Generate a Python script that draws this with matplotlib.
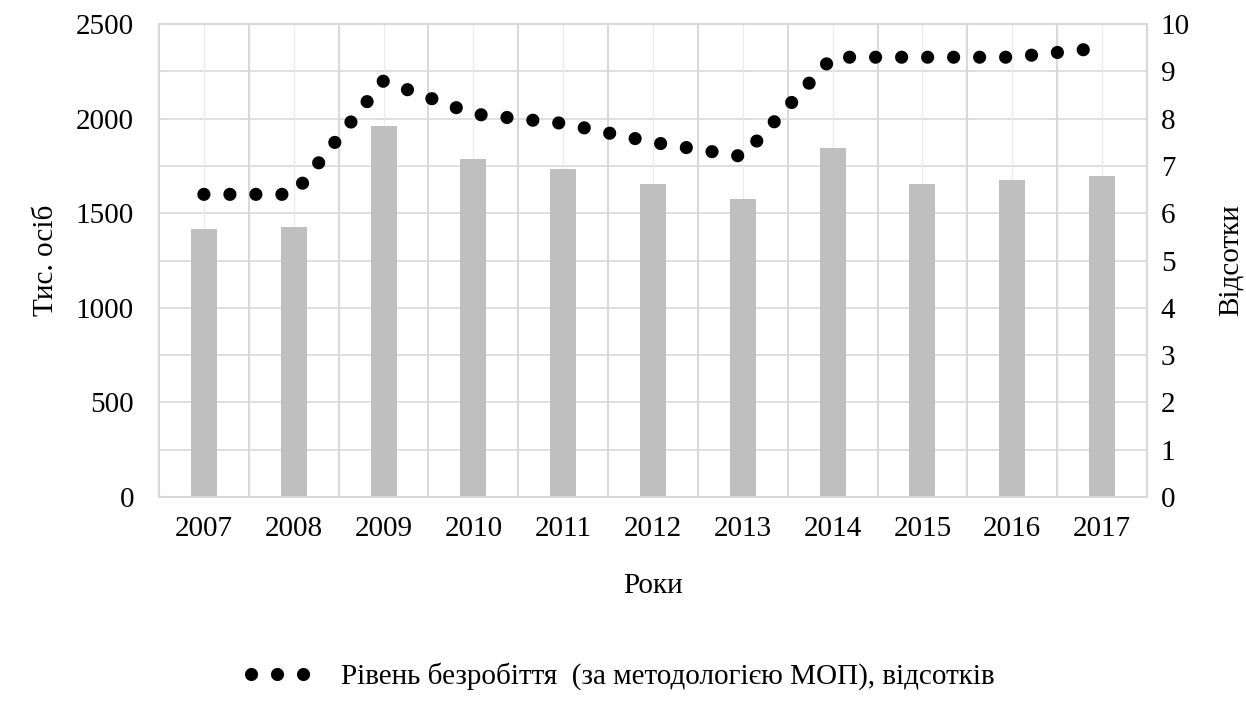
import numpy as np
import matplotlib
matplotlib.use("Agg")
import matplotlib.pyplot as plt
from matplotlib.lines import Line2D

plt.rcParams['font.family'] = ['Liberation Serif', 'DejaVu Serif']

# Дані
roky = ['2007', '2008', '2009', '2010', '2011', '2012', '2013', '2014', '2015', '2016', '2017']
bezrobitni = [1417.6, 1425.1, 1958.8, 1785.6, 1732.7, 1657.2, 1576.5, 1847.6, 1654.7, 1678.2, 1698.0]
riven = [6.4, 6.4, 8.8, 8.1, 7.9, 7.5, 7.2, 9.3, 9.3, 9.3, 9.5]

fs = 21
grid_col = '#d9d9d9'
lw_dots = 9.5
dots = (0, (0.001, 1.97))

fig = plt.figure(figsize=(12.46, 7.09), dpi=100)
ax = fig.add_axes([0.1276, 0.299, 0.7929, 0.667])
x = np.arange(len(roky))

ax.bar(x, bezrobitni, width=0.29, color='#bfbfbf', zorder=2)
ax.set_xlim(-0.5, len(roky) - 0.5)
ax.set_ylim(0, 2500)
ax.set_yticks(np.arange(0, 2501, 500))
ax.set_xticks(x)
ax.set_xticklabels(roky)

# сітка
for yy in np.arange(250, 2500, 250):
    ax.axhline(yy, color=grid_col, lw=1.2, zorder=0)
for xx in np.arange(-0.5, len(roky), 1.0):
    ax.axvline(xx, color=grid_col, lw=1.5, zorder=0)
for xx in x:
    ax.axvline(xx, color='#ececec', lw=1.0, zorder=0)

for s in ax.spines.values():
    s.set_color(grid_col)
    s.set_linewidth(1.5)
ax.tick_params(length=0, labelsize=fs)
ax.tick_params(axis='x', pad=14)
ax.tick_params(axis='y', pad=18)
ax.set_ylabel('Тис. осіб', fontsize=fs, labelpad=12)
ax.set_xlabel('Роки', fontsize=fs, labelpad=22)

ax2 = ax.twinx()
ax2.plot(x, riven, color='black', lw=lw_dots, linestyle=dots,
         dash_capstyle='round', solid_capstyle='round')
ax2.set_ylim(0, 10)
ax2.set_yticks(np.arange(0, 11, 1))
ax2.tick_params(length=0, labelsize=fs, pad=10)
for s in ax2.spines.values():
    s.set_visible(False)
ax2.set_ylabel('Відсотки', fontsize=fs, labelpad=20)

handle = Line2D([0], [0], color='black', lw=lw_dots, linestyle=dots,
                dash_capstyle='round')
fig.legend([handle], ['Рівень безробіття  (за методологією МОП), відсотків'],
           loc='center', bbox_to_anchor=(0.5, 0.046), frameon=False,
           fontsize=fs, handlelength=2.3, handletextpad=0.8)

fig.savefig('out.png', dpi=100)
